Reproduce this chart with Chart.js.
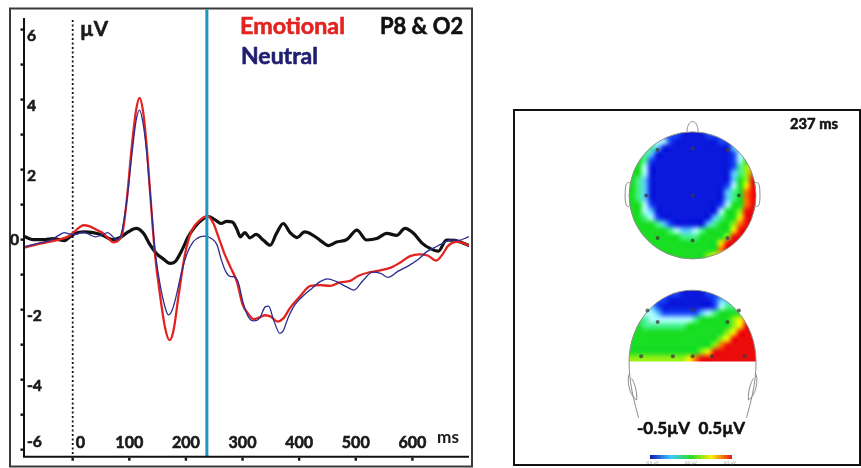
<!DOCTYPE html>
<html>
<head>
<meta charset="utf-8">
<script src="https://cdn.jsdelivr.net/npm/chart.js@4.4.0/dist/chart.umd.min.js"></script>
<style>
  html, body { margin: 0; padding: 0; background: #fff; }
  body { width: 861px; height: 468px; position: relative; overflow: hidden; }
  #erp { position: absolute; left: 0; top: 0; }
  #topo { position: absolute; left: 513px; top: 109px; }
</style>
</head>
<body>
<canvas id="erp" width="480" height="468"></canvas>
<canvas id="topo" width="348" height="357"></canvas>
<script>
// Datos (ms, microvoltios)
const emotionalMs = [-84, -60, -40, -20, -5, 8, 19, 30, 42, 54, 64, 72, 80, 88, 96, 104, 112, 118, 124, 130,
  137, 145, 154, 163, 171, 178, 187, 198, 210, 225, 238, 248, 258, 268, 279, 290, 300, 310, 320, 330,
  340, 350, 362, 372, 384, 400, 420, 437, 455, 472, 490, 505, 525, 545, 562, 578, 596, 612, 628, 642,
  652, 663, 678, 690, 699];
const emotionalUv = [-0.22, -0.12, -0.06, 0.02, 0.12, 0.3, 0.41, 0.38, 0.28, 0.18, 0.02, -0.08, -0.03, 0.2, 1.2, 2.6, 3.7, 4.05, 3.7, 2.8,
  1.3, -0.35, -1.55, -2.5, -2.87, -2.6, -1.6, -0.45, 0.25, 0.56, 0.67, 0.48, 0.05, -0.4, -0.8, -1.2, -1.85, -2.12, -2.27, -2.22,
  -2.16, -2.2, -2.34, -2.25, -1.95, -1.65, -1.32, -1.3, -1.32, -1.22, -1.18, -1.03, -0.93, -0.87, -0.8, -0.66, -0.47, -0.42, -0.46, -0.6,
  -0.45, -0.18, -0.06, -0.1, -0.16];

const neutralMs = [-84, -60, -40, -25, -15, -5, 5, 19, 30, 40, 50, 62, 70, 76, 84, 90, 97, 105, 112, 118,
  124, 130, 137, 145, 154, 163, 169, 176, 183, 192, 202, 213, 225, 234, 245, 255, 262, 270, 278, 287,
  293, 301, 310, 320, 330, 340, 346, 355, 366, 372, 380, 392, 405, 422, 437, 450, 466, 484, 497, 512,
  530, 545, 557, 575, 593, 610, 625, 640, 652, 668, 682, 699];
const neutralUv = [-0.2, -0.1, -0.02, 0.12, 0.2, 0.16, 0.15, 0.22, 0.14, 0.08, 0.12, 0.2, 0.1, 0.0, 0.08, 0.5, 1.3, 2.5, 3.4, 3.7,
  3.35, 2.6, 1.3, -0.25, -1.25, -1.92, -2.15, -2.0, -1.6, -0.95, -0.4, -0.06, 0.08, 0.1, 0.03, -0.15, -0.55, -0.9, -1.05, -1.07,
  -1.25, -1.8, -2.2, -2.32, -2.25, -1.92, -1.9, -2.3, -2.68, -2.6, -2.25, -1.87, -1.64, -1.4, -1.2, -1.12, -1.2, -1.35, -1.44, -1.18,
  -0.93, -0.97, -1.08, -0.9, -0.75, -0.57, -0.35, -0.22, -0.12, -0.01, -0.02, 0.08];

const diffMs = [-84, -70, -52, -34, -14, -5, 5, 19, 36, 54, 70, 84, 98, 112, 125, 137, 148, 160, 172, 181,
  193, 204, 216, 228, 240, 251, 262, 272, 282, 290, 296, 304, 313, 324, 337, 349, 360, 372, 384, 396,
  410, 424, 437, 452, 466, 484, 502, 519, 537, 555, 572, 587, 602, 617, 631, 646, 660, 675, 690, 699];
const diffUv = [0.08, 0.0, 0.0, 0.03, -0.03, 0.08, 0.18, 0.22, 0.2, 0.12, 0.0, 0.06, 0.22, 0.32, 0.18, -0.16, -0.4, -0.55, -0.68, -0.63,
  -0.3, 0.08, 0.37, 0.56, 0.66, 0.57, 0.46, 0.52, 0.5, 0.3, 0.08, 0.2, 0.05, 0.15, -0.02, -0.16, 0.18, 0.46, 0.2, 0.06,
  0.22, 0.13, -0.02, -0.17, -0.07, 0.0, 0.27, -0.01, 0.03, 0.18, 0.12, 0.32, 0.18, -0.1, -0.25, -0.33, -0.01, -0.02, -0.1, -0.16];

const markerMs = 237;
const xTickLabels = [0, 100, 200, 300, 400, 500, 600];
const yTickLabels = [-6, -4, -2, 0, 2, 4, 6];

// Mapas topograficos: un digito por celda (0 = -0.5 uV ... 9 = +0.5 uV)
const topViewGrid = [
  "11111111000011111111",
  "33333310000000111111",
  "44442000000000002222",
  "54420000000000001344",
  "55410000000000001355",
  "55300000000000001467",
  "55300000000000002468",
  "54200000000000002569",
  "54200000000000013579",
  "54200000000000024589",
  "54200000000000024589",
  "55310000000000135589",
  "55320000000000355699",
  "55431000000002455799",
  "55554210000024556899",
  "55555543223455557999",
  "55555555444555569999",
  "55555555555555799999",
  "55555555555555899999",
  "55555555555567777777"
];
const backViewGrid = [
  "11111111000011111111",
  "11111100000001222222",
  "22221000000001344444",
  "33332111111234555555",
  "44433333334555556788",
  "55444444455555556799",
  "55555555555555567999",
  "55555555555555679999",
  "55555555555556899999",
  "55555555555679999999",
  "66666666678999999999"
];

// Electrodos (unidades de cabeza)
const topElecX = [-0.55, 0, 0.55, -0.73, 0, 0.73, -0.55, 0, 0.55];
const topElecY = [0.72, 0.74, 0.72, 0, 0, 0, -0.67, -0.71, -0.67];
const backElecX = [0, -0.71, 0.73, -0.55, 0.55, -0.81, -0.31, 0, 0.31, 0.82];
const backElecY = [-1.8, -1.81, -1.81, -1.99, -1.99, -2.53, -2.53, -2.53, -2.53, -2.53];

const FONT = 'Lato, "Open Sans", sans-serif';
const palette = [
  [10, 25, 220], [25, 70, 245], [90, 200, 255], [175, 250, 255], [70, 240, 140],
  [25, 222, 35], [150, 240, 20], [250, 240, 0], [255, 110, 0], [235, 12, 12]
];

function toPoints(xs, ys) {
  return xs.map((x, i) => ({ x: x, y: ys[i] }));
}

// Ajusta el tamano de fuente para que el texto ocupe un ancho dado
function fitFont(ctx, text, width, weight) {
  ctx.font = `${weight} 20px ${FONT}`;
  const size = 20 * width / ctx.measureText(text).width;
  return `${weight} ${size.toFixed(1)}px ${FONT}`;
}

// Texto en negrita con un trazo fino para engrosarlo
function heavyText(ctx, text, x, y) {
  ctx.lineWidth = 0.6;
  ctx.strokeStyle = ctx.fillStyle;
  ctx.strokeText(text, x, y);
  ctx.fillText(text, x, y);
}

// ---------- Grafica ERP ----------
const erpDecor = {
  id: 'erpDecor',
  beforeDatasetsDraw(chart) {
    const { ctx, chartArea: a, scales: { x } } = chart;
    ctx.save();
    ctx.strokeStyle = '#3a3a3a';
    ctx.lineWidth = 2;
    ctx.strokeRect(10, 8.5, 462, 458);
    const x0 = x.getPixelForValue(0);
    ctx.setLineDash([2, 2.5]);
    ctx.lineWidth = 1.8;
    ctx.strokeStyle = '#111';
    ctx.beginPath();
    ctx.moveTo(x0, a.top + 2);
    ctx.lineTo(x0, a.bottom);
    ctx.stroke();
    ctx.restore();
  },
  afterDatasetsDraw(chart) {
    const { ctx, chartArea: a, scales: { x, y } } = chart;
    ctx.save();
    // linea del instante del mapa
    const xm = x.getPixelForValue(markerMs);
    ctx.strokeStyle = '#1c96c2';
    ctx.lineWidth = 3;
    ctx.beginPath();
    ctx.moveTo(xm, 9.5);
    ctx.lineTo(xm, a.bottom);
    ctx.stroke();

    // ejes
    ctx.strokeStyle = '#111';
    ctx.lineWidth = 2;
    ctx.beginPath();
    ctx.moveTo(a.left, a.top);
    ctx.lineTo(a.left, a.bottom);
    ctx.lineTo(a.right, a.bottom);
    ctx.stroke();
    ctx.fillStyle = '#111';
    for (let v = -6; v <= 6; v++) {
      const py = y.getPixelForValue(v);
      ctx.fillRect(a.left - 3.5, py - 1.2, 3, 2.4);
    }
    xTickLabels.forEach(t => {
      const px = x.getPixelForValue(t);
      ctx.fillRect(px - 1.2, a.bottom + 1, 2.4, 3);
    });

    // etiquetas
    ctx.fillStyle = '#1a1a1a';
    ctx.textBaseline = 'middle';
    ctx.font = fitFont(ctx, '-6', 15, 'bold');
    yTickLabels.forEach(v => {
      const py = y.getPixelForValue(v);
      if (v === 0) {
        ctx.textAlign = 'right';
        heavyText(ctx, String(v), a.left - 5, py);
      } else {
        ctx.textAlign = 'left';
        heavyText(ctx, String(v), a.left + 3, Math.min(py + 6, a.bottom - 15));
      }
    });
    ctx.font = fitFont(ctx, '100', 28, 'bold');
    xTickLabels.forEach(t => {
      const px = x.getPixelForValue(t);
      if (t === 0) {
        ctx.textAlign = 'left';
        heavyText(ctx, String(t), px + 3, a.bottom - 14);
      } else {
        ctx.textAlign = 'center';
        heavyText(ctx, String(t), px, a.bottom - 14);
      }
    });
    ctx.textAlign = 'left';
    ctx.font = fitFont(ctx, 'ms', 22, 'bold');
    ctx.fillText('ms', 437, a.bottom - 19);

    ctx.textBaseline = 'alphabetic';
    ctx.font = fitFont(ctx, 'µV', 28, 'bold');
    heavyText(ctx, 'µV', 80, 36);
    ctx.fillStyle = '#e2231f';
    ctx.font = fitFont(ctx, 'Emotional', 105, 'bold');
    heavyText(ctx, 'Emotional', 240, 34);
    ctx.fillStyle = '#1f1f70';
    ctx.font = fitFont(ctx, 'Neutral', 77, 'bold');
    heavyText(ctx, 'Neutral', 241, 64);
    ctx.fillStyle = '#111';
    ctx.font = fitFont(ctx, 'P8 & O2', 83, 'bold');
    heavyText(ctx, 'P8 & O2', 380, 34);
    ctx.restore();
  }
};

const lineDefaults = {
  pointRadius: 0,
  fill: false,
  cubicInterpolationMode: 'monotone',
  borderJoinStyle: 'round',
  borderCapStyle: 'round'
};

const erpChart = new Chart(document.getElementById('erp'), {
  type: 'line',
  data: {
    datasets: [
      { ...lineDefaults, label: 'Neutral', data: toPoints(neutralMs, neutralUv), borderColor: '#2c2c8e', borderWidth: 1.3, order: 0 },
      { ...lineDefaults, label: 'Emotional', data: toPoints(emotionalMs, emotionalUv), borderColor: '#e2231f', borderWidth: 2.3, order: 1 },
      { ...lineDefaults, label: 'Difference', data: toPoints(diffMs, diffUv), borderColor: '#111', borderWidth: 3.2, order: 2 }
    ]
  },
  options: {
    responsive: false,
    animation: false,
    devicePixelRatio: 1,
    layout: { padding: { left: 24, top: 18, right: 11, bottom: 11.3 } },
    scales: {
      x: { type: 'linear', min: -86, max: 700, display: false },
      y: { type: 'linear', min: -6.2, max: 6.33, display: false }
    },
    plugins: { legend: { display: false }, tooltip: { enabled: false } }
  },
  plugins: [erpDecor]
});

// ---------- Mapas topograficos ----------
function gridImage(rows) {
  const h = rows.length, w = rows[0].length;
  const c = document.createElement('canvas');
  c.width = w;
  c.height = h;
  const g = c.getContext('2d');
  const img = g.createImageData(w, h);
  rows.forEach((row, r) => {
    for (let i = 0; i < w; i++) {
      const col = palette[+row[i]];
      const k = (r * w + i) * 4;
      img.data[k] = col[0];
      img.data[k + 1] = col[1];
      img.data[k + 2] = col[2];
      img.data[k + 3] = 255;
    }
  });
  g.putImageData(img, 0, 0);
  return c;
}

const BACK_BASE = -2.615;
const BACK_H = 1.123;

const topoDecor = {
  id: 'topoDecor',
  beforeDatasetsDraw(chart) {
    const { ctx, scales: { x, y } } = chart;
    const X = u => x.getPixelForValue(u);
    const Y = v => y.getPixelForValue(v);
    const rx = X(1) - X(0);
    ctx.save();
    ctx.imageSmoothingEnabled = true;
    ctx.imageSmoothingQuality = 'high';

    // vista superior
    ctx.save();
    ctx.beginPath();
    ctx.ellipse(X(0), Y(0), rx, Y(0) - Y(1), 0, 0, 2 * Math.PI);
    ctx.clip();
    ctx.drawImage(gridImage(topViewGrid), X(-1), Y(1), X(1) - X(-1), Y(-1) - Y(1));
    ctx.restore();

    // vista posterior
    const ryB = Y(BACK_BASE) - Y(BACK_BASE + BACK_H);
    ctx.save();
    ctx.beginPath();
    ctx.ellipse(X(0), Y(BACK_BASE), rx, ryB, 0, Math.PI, 2 * Math.PI);
    ctx.closePath();
    ctx.clip();
    ctx.drawImage(gridImage(backViewGrid), X(-1), Y(BACK_BASE + BACK_H), X(1) - X(-1), Y(BACK_BASE) - Y(BACK_BASE + BACK_H));
    ctx.restore();

    // contornos
    ctx.strokeStyle = '#8c8c8c';
    ctx.lineWidth = 1;
    ctx.beginPath();
    ctx.ellipse(X(0), Y(0), rx, Y(0) - Y(1), 0, 0, 2 * Math.PI);
    ctx.stroke();
    ctx.beginPath();
    ctx.moveTo(X(-0.09), Y(0.996));
    ctx.bezierCurveTo(X(-0.08), Y(1.22), X(0.08), Y(1.22), X(0.09), Y(0.996));
    ctx.stroke();
    [-1, 1].forEach(s => {
      ctx.beginPath();
      ctx.moveTo(X(s * 0.99), Y(0.2));
      ctx.bezierCurveTo(X(s * 1.05), Y(0.22), X(s * 1.06), Y(0.14), X(s * 1.06), Y(0.05));
      ctx.bezierCurveTo(X(s * 1.07), Y(-0.1), X(s * 1.05), Y(-0.2), X(s * 0.995), Y(-0.17));
      ctx.stroke();
    });
    ctx.beginPath();
    ctx.ellipse(X(0), Y(BACK_BASE), rx, ryB, 0, Math.PI, 2 * Math.PI);
    ctx.stroke();
    [-1, 1].forEach(s => {
      ctx.beginPath();
      ctx.moveTo(X(s * 1.0), Y(BACK_BASE));
      ctx.bezierCurveTo(X(s * 1.0), Y(-3.0), X(s * 0.9), Y(-3.3), X(s * 0.85), Y(-3.5));
      ctx.stroke();
      ctx.beginPath();
      ctx.moveTo(X(s * 0.99), Y(-2.8));
      ctx.bezierCurveTo(X(s * 1.04), Y(-2.86), X(s * 1.01), Y(-3.15), X(s * 0.88), Y(-3.22));
      ctx.bezierCurveTo(X(s * 0.87), Y(-3.1), X(s * 0.91), Y(-2.95), X(s * 0.96), Y(-2.88));
      ctx.stroke();
    });
    ctx.restore();
  },
  afterDraw(chart) {
    const { ctx, width, height } = chart;
    ctx.save();
    ctx.strokeStyle = '#111';
    ctx.lineWidth = 2;
    ctx.strokeRect(1, 1, width - 2, height - 2);

    ctx.fillStyle = '#111';
    ctx.textBaseline = 'alphabetic';
    ctx.textAlign = 'left';
    ctx.font = fitFont(ctx, '237 ms', 48, 'bold');
    heavyText(ctx, '237 ms', 277, 20);
    ctx.font = fitFont(ctx, '-0.5µV  0.5µV', 108, 'bold');
    heavyText(ctx, '-0.5µV  0.5µV', 124, 325);

    // barra de color
    const grad = ctx.createLinearGradient(137, 0, 219, 0);
    grad.addColorStop(0, 'rgb(20,20,180)');
    grad.addColorStop(0.25, 'rgb(60,200,255)');
    grad.addColorStop(0.5, 'rgb(40,220,40)');
    grad.addColorStop(0.75, 'rgb(250,240,0)');
    grad.addColorStop(1, 'rgb(235,20,20)');
    ctx.fillStyle = grad;
    ctx.fillRect(137, 346, 82, 4);
    ctx.fillStyle = '#9a9a9a';
    ctx.font = `4px ${FONT}`;
    ctx.textAlign = 'center';
    ctx.fillText('-0.5 µV', 139, 355);
    ctx.fillText('0.0 µV', 178, 355);
    ctx.fillText('0.5 µV', 217, 355);
    ctx.restore();
  }
};

const topoChart = new Chart(document.getElementById('topo'), {
  type: 'scatter',
  data: {
    datasets: [
      { label: 'Top', data: toPoints(topElecX, topElecY), pointRadius: 2, backgroundColor: 'rgba(60,60,60,0.75)', borderWidth: 0 },
      { label: 'Back', data: toPoints(backElecX, backElecY), pointRadius: 2, backgroundColor: 'rgba(60,60,60,0.75)', borderWidth: 0 }
    ]
  },
  options: {
    responsive: false,
    animation: false,
    devicePixelRatio: 1,
    layout: { padding: 0 },
    scales: {
      x: { type: 'linear', min: -2.765, max: 2.59, display: false },
      y: { type: 'linear', min: -4.195, max: 1.297, display: false }
    },
    plugins: { legend: { display: false }, tooltip: { enabled: false } }
  },
  plugins: [topoDecor]
});
</script>
</body>
</html>
